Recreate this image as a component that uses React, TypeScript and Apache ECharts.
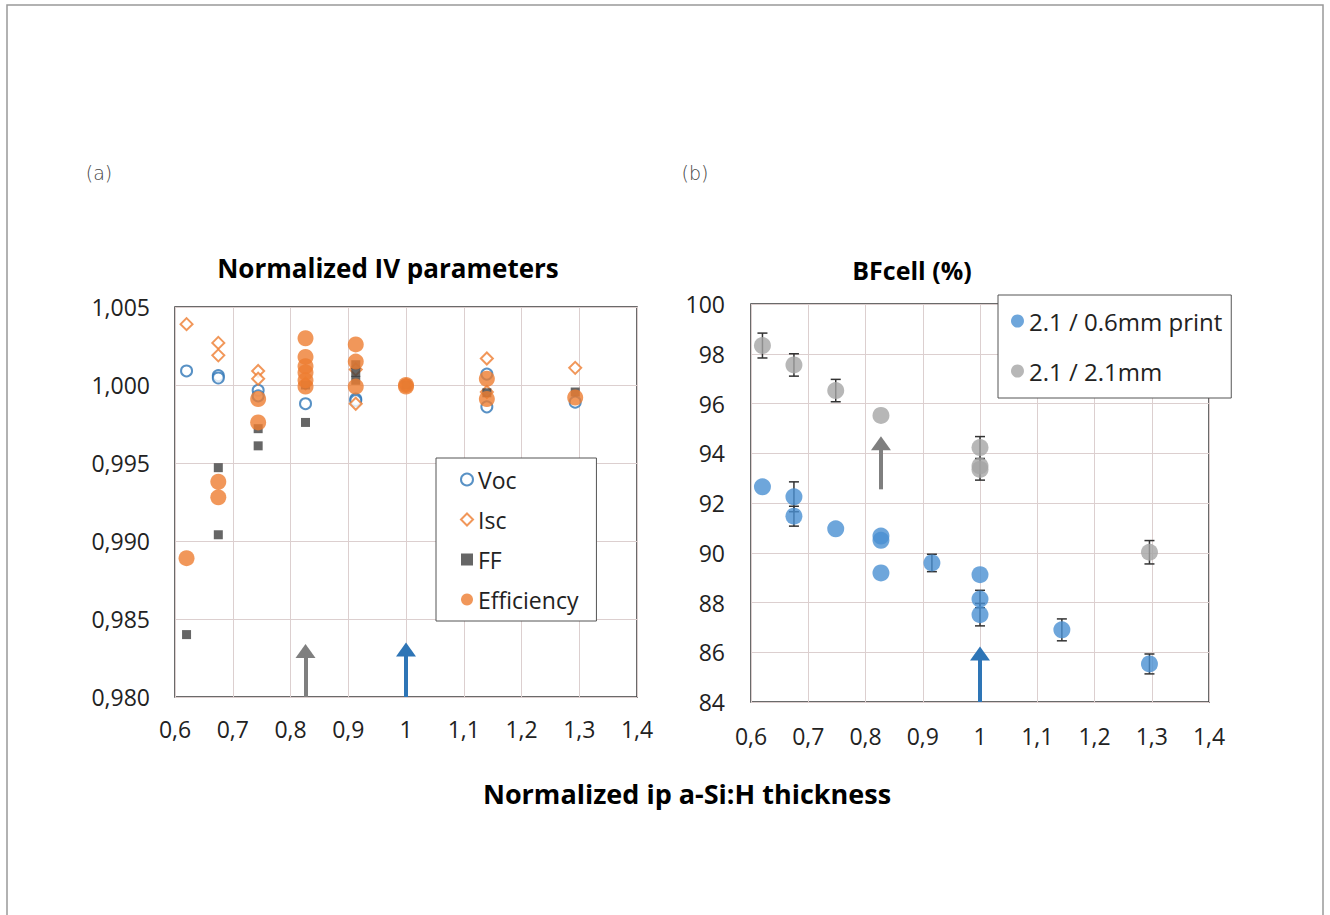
import React, { useEffect, useRef } from "react";
import * as echarts from "echarts";

// ---------- Data (a) Normalized IV parameters ----------
const vocPoints: number[][] = [
  [0.62, 1.0009], [0.675, 1.0006], [0.675, 1.00045], [0.744, 0.99966], [0.744, 0.9993],
  [0.826, 0.9988], [0.913, 0.9991], [0.913, 0.999], [1, 1.0], [1.14, 1.0007], [1.14, 0.9986],
  [1.293, 0.9989],
];
const iscPoints: number[][] = [
  [0.62, 1.0039], [0.675, 1.0027], [0.675, 1.0019], [0.744, 1.0009], [0.744, 1.0004],
  [0.826, 1.0001], [0.913, 0.9988], [0.913, 1.001], [1, 1.0], [1.14, 1.0017], [1.14, 0.99955],
  [1.293, 1.0011],
];
const ffPoints: number[][] = [
  [0.62, 0.984], [0.675, 0.9947], [0.675, 0.9904], [0.744, 0.9972], [0.744, 0.9961],
  [0.826, 0.9976], [0.826, 1.0], [0.913, 1.0013], [0.913, 1.0008], [0.913, 1.0003], [1, 1.0],
  [1.14, 0.9995], [1.293, 0.99955],
];
const effPoints: number[][] = [
  [0.62, 0.9889], [0.675, 0.9938], [0.675, 0.9928], [0.744, 0.9991], [0.744, 0.9976],
  [0.826, 1.003], [0.826, 1.0018], [0.826, 1.0012], [0.826, 1.0008], [0.826, 1.0003], [0.826, 0.9999],
  [0.913, 1.0026], [0.913, 1.0015], [0.913, 0.9999], [1, 1.0], [1, 0.9999],
  [1.14, 1.0004], [1.14, 0.9991], [1.293, 0.9992],
];
const leftArrows = [
  { x: 0.826, from: 0.98, to: 0.98295, color: "#7f7f7f" },
  { x: 1.0, from: 0.98, to: 0.98305, color: "#2e75b6" },
];

// ---------- Data (b) BFcell (%) ----------
const printPoints: number[][] = [
  [0.62, 92.65], [0.675, 92.25], [0.675, 91.47], [0.748, 90.96], [0.827, 90.67], [0.827, 90.5],
  [0.827, 89.19], [0.916, 89.59], [1, 89.12], [1, 88.14], [1, 87.51], [1.143, 86.9], [1.296, 85.53],
];
const wirePoints: number[][] = [
  [0.62, 98.33], [0.675, 97.55], [0.748, 96.52], [0.827, 95.52], [1, 94.23], [1, 93.49],
  [1, 93.35], [1.296, 90.02],
];
// [x, y, error]
const printErr: number[][] = [
  [0.675, 92.25, 0.6], [0.675, 91.47, 0.4], [0.916, 89.59, 0.35], [1, 88.14, 0.35],
  [1, 87.51, 0.45], [1.143, 86.9, 0.44], [1.296, 85.53, 0.4],
];
const wireErr: number[][] = [
  [0.62, 98.33, 0.5], [0.675, 97.55, 0.45], [0.748, 96.52, 0.45], [1, 94.23, 0.44],
  [1, 93.35, 0.43], [1.296, 90.02, 0.47],
];
const rightArrows = [
  { x: 0.827, from: 92.55, to: 94.4, color: "#7f7f7f" },
  { x: 1.0, from: 84, to: 85.95, color: "#2e75b6" },
];

const leftLegend = ["Voc", "Isc", "FF", "Efficiency"];
const rightLegend = ["2.1 / 0.6mm print", "2.1 / 2.1mm"];

const FONT = "Open Sans";
const fmtX = (v: number) => String(Number(v.toFixed(1))).replace(".", ",");

export default function App() {
  const ref = useRef<HTMLDivElement>(null);
  useEffect(() => {
    document.body.style.margin = "0";
    const chart = echarts.init(ref.current!, null, { renderer: "svg" });

    const errRender = (params: any, api: any) => {
      const x = api.value(0);
      const y = api.value(1);
      const e = api.value(2);
      const t = api.coord([x, y + e]);
      const b = api.coord([x, y - e]);
      const st = { stroke: "#333", lineWidth: 1.5 };
      return {
        type: "group",
        children: [
          { type: "line", shape: { x1: t[0], y1: t[1], x2: b[0], y2: b[1] }, style: st },
          { type: "line", shape: { x1: t[0] - 5, y1: t[1], x2: t[0] + 5, y2: t[1] }, style: st },
          { type: "line", shape: { x1: b[0] - 5, y1: b[1], x2: b[0] + 5, y2: b[1] }, style: st },
        ],
      };
    };

    const arrowSeries = (arrows: any[], axisIdx: number) => ({
      type: "scatter",
      name: "arrows" + axisIdx,
      xAxisIndex: axisIdx,
      yAxisIndex: axisIdx,
      data: [],
      silent: true,
      markLine: {
        silent: true,
        animation: false,
        symbol: ["none", "triangle"],
        symbolSize: [20, 14],
        label: { show: false },
        data: arrows.map((a) => [
          { coord: [a.x, a.from], lineStyle: { color: a.color, width: 4, type: "solid" }, itemStyle: { color: a.color } },
          { coord: [a.x, a.to] },
        ]),
      },
    });

    const axisLabel = { color: "#222", fontSize: 23, fontFamily: FONT };
    const split = { show: true, lineStyle: { color: "#dccfcf", width: 1 } };

    chart.setOption({
      animation: false,
      backgroundColor: "#fff",
      graphic: [
        { type: "rect", shape: { x: 7, y: 5, width: 1316, height: 940 }, style: { fill: "none", stroke: "#999", lineWidth: 1.5 } },
        { type: "text", x: 99, y: 173, style: { text: "(a)", font: `300 19px 'DejaVu Sans'`, fill: "#444", textAlign: "center", textVerticalAlign: "middle" } },
        { type: "text", x: 695, y: 173, style: { text: "(b)", font: `300 19px 'DejaVu Sans'`, fill: "#444", textAlign: "center", textVerticalAlign: "middle" } },
        { type: "text", x: 388, y: 268, style: { text: "Normalized IV parameters", font: `bold 26px '${FONT}'`, fill: "#000", textAlign: "center", textVerticalAlign: "middle" } },
        { type: "text", x: 912, y: 270, style: { text: "BFcell (%)", font: `bold 25px '${FONT}'`, fill: "#000", textAlign: "center", textVerticalAlign: "middle" } },
        { type: "text", x: 687, y: 793, style: { text: "Normalized ip a-Si:H thickness", font: `bold 27px '${FONT}'`, fill: "#000", textAlign: "center", textVerticalAlign: "middle" } },
      ],
      grid: [
        { left: 175, top: 307, width: 462, height: 390, show: true, borderColor: "#3a3a3a", borderWidth: 1.5, backgroundColor: "transparent" },
        { left: 751, top: 304, width: 458, height: 398, show: true, borderColor: "#3a3a3a", borderWidth: 1.5, backgroundColor: "transparent" },
      ],
      xAxis: [
        {
          type: "value", gridIndex: 0, min: 0.6, max: 1.4, interval: 0.1,
          axisLine: { show: false }, axisTick: { show: false }, splitLine: split,
          axisLabel: { ...axisLabel, margin: 20, formatter: fmtX },
        },
        {
          type: "value", gridIndex: 1, min: 0.6, max: 1.4, interval: 0.1,
          axisLine: { show: false }, axisTick: { show: false }, splitLine: split,
          axisLabel: { ...axisLabel, margin: 22, formatter: fmtX },
        },
      ],
      yAxis: [
        {
          type: "value", gridIndex: 0, min: 0.98, max: 1.005, interval: 0.005,
          axisLine: { show: false }, axisTick: { show: false }, splitLine: split,
          axisLabel: { ...axisLabel, margin: 25, formatter: (v: number) => v.toFixed(3).replace(".", ",") },
        },
        {
          type: "value", gridIndex: 1, min: 84, max: 100, interval: 2,
          axisLine: { show: false }, axisTick: { show: false }, splitLine: split,
          axisLabel: { ...axisLabel, margin: 26, formatter: (v: number) => String(Math.round(v)) },
        },
      ],
      legend: [
        {
          data: leftLegend, orient: "vertical", left: 436, top: 458,
          backgroundColor: "#fff", borderColor: "#555", borderWidth: 1,
          padding: [10, 18, 10, 24], itemGap: 17, itemWidth: 12, itemHeight: 12, itemTextGap: 6,
          textStyle: { fontSize: 23, fontFamily: FONT, color: "#222" },
        },
        {
          data: rightLegend, orient: "vertical", left: 998, top: 295,
          backgroundColor: "#fff", borderColor: "#555", borderWidth: 1,
          padding: [14, 9, 15, 13], itemGap: 26, itemWidth: 13, itemHeight: 13, itemTextGap: 6,
          textStyle: { fontSize: 24, fontFamily: FONT, color: "#222" },
        },
      ],
      series: [
        { type: "scatter", name: "Voc", xAxisIndex: 0, yAxisIndex: 0, data: vocPoints, symbol: "emptyCircle", symbolSize: 11, itemStyle: { color: "#2e75b6", borderWidth: 2.2 } },
        { type: "scatter", name: "Isc", xAxisIndex: 0, yAxisIndex: 0, data: iscPoints, symbol: "emptyDiamond", symbolSize: 12, itemStyle: { color: "#ed7d31", borderWidth: 2 } },
        { type: "scatter", name: "FF", xAxisIndex: 0, yAxisIndex: 0, data: ffPoints, symbol: "rect", symbolSize: 9, itemStyle: { color: "#404040" } },
        { type: "scatter", name: "Efficiency", xAxisIndex: 0, yAxisIndex: 0, data: effPoints, symbol: "circle", symbolSize: 16, itemStyle: { color: "#ed7d31" } },
        arrowSeries(leftArrows, 0),
        { type: "custom", name: "errPrint", xAxisIndex: 1, yAxisIndex: 1, data: printErr, renderItem: errRender, encode: { x: 0, y: 1 }, silent: true },
        { type: "custom", name: "errWire", xAxisIndex: 1, yAxisIndex: 1, data: wireErr, renderItem: errRender, encode: { x: 0, y: 1 }, silent: true },
        { type: "scatter", name: "2.1 / 0.6mm print", xAxisIndex: 1, yAxisIndex: 1, data: printPoints, symbol: "circle", symbolSize: 17, itemStyle: { color: "#4a90d2" } },
        { type: "scatter", name: "2.1 / 2.1mm", xAxisIndex: 1, yAxisIndex: 1, data: wirePoints, symbol: "circle", symbolSize: 17, itemStyle: { color: "#a5a5a5" } },
        arrowSeries(rightArrows, 1),
      ],
    });
    return () => chart.dispose();
  }, []);
  return <div ref={ref} style={{ width: 1330, height: 915 }} />;
}
